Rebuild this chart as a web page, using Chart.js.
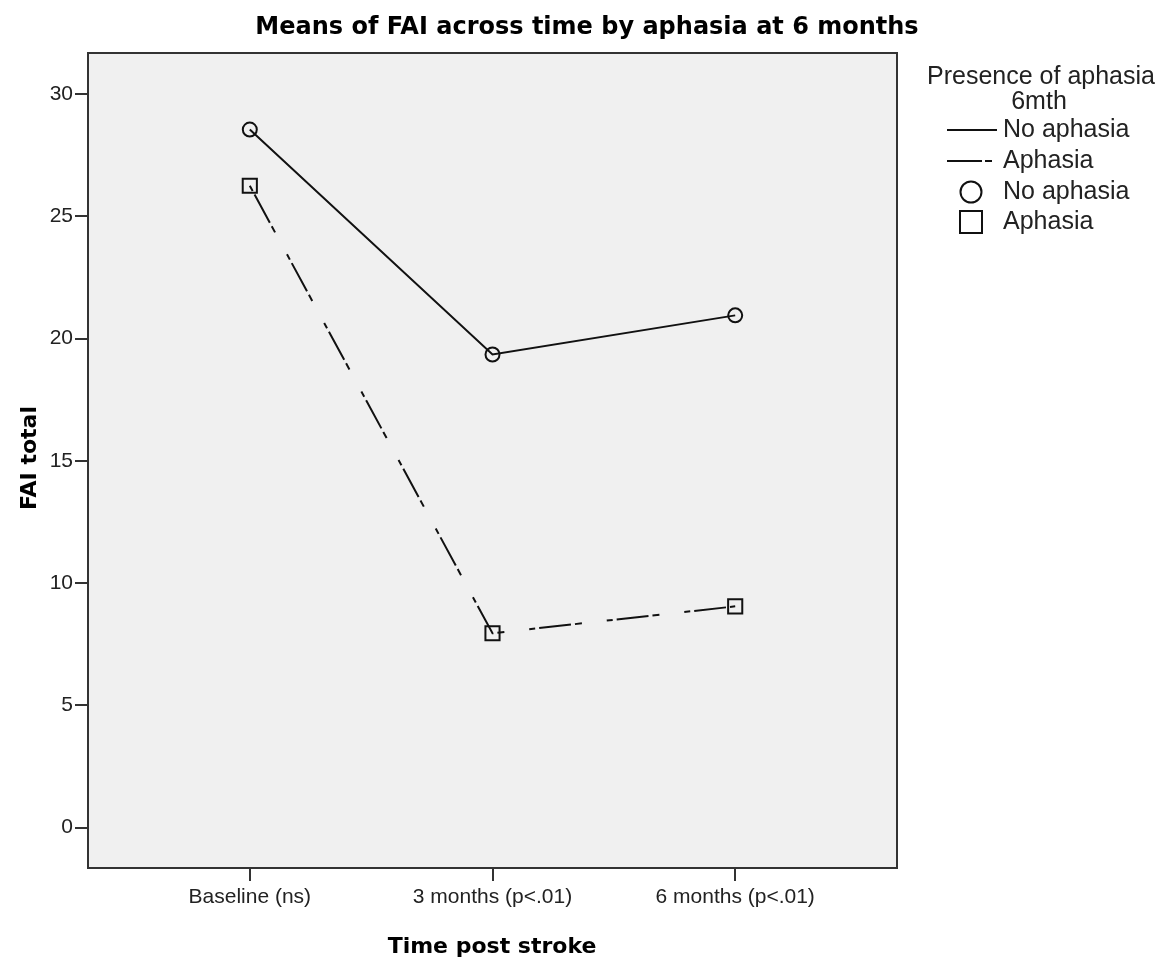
<!DOCTYPE html>
<html>
<head>
<meta charset="utf-8">
<script src="https://cdn.jsdelivr.net/npm/chart.js@4.4.0/dist/chart.umd.min.js"></script>
<style>
  body { margin: 0; background: #fff; }
  #wrap { width: 1175px; height: 963px; }
</style>
</head>
<body>
<div id="wrap"><canvas id="faiChart"></canvas></div>
<script>
// Data
const timePoints = ['Baseline (ns)', '3 months (p<.01)', '6 months (p<.01)'];
const noAphasia = [28.55, 19.35, 20.95];
const aphasia = [26.25, 7.95, 9.05];
const yTicks = [0, 5, 10, 15, 20, 25, 30];

const ink = '#111';
const dashDot = [6, 4, 32, 4, 7, 25];

// Grey plot box, frame, titles and the SPSS-style legend
const spssFrame = {
    id: 'spssFrame',
    beforeDraw(chart) {
        const { ctx, chartArea: a } = chart;
        ctx.save();
        ctx.fillStyle = '#f0f0f0';
        ctx.fillRect(a.left, a.top, a.right - a.left, a.bottom - a.top);
        ctx.restore();
    },
    afterDraw(chart) {
        const { ctx, chartArea: a } = chart;
        ctx.save();
        ctx.strokeStyle = '#333';
        ctx.lineWidth = 2;
        ctx.strokeRect(a.left, a.top, a.right - a.left, a.bottom - a.top);

        // chart title
        ctx.fillStyle = '#000';
        ctx.textAlign = 'center';
        ctx.textBaseline = 'alphabetic';
        ctx.font = 'bold 24px "DejaVu Sans"';
        ctx.fillText('Means of FAI across time by aphasia at 6 months', 587, 34);

        // axis titles
        ctx.font = 'bold 22px "DejaVu Sans"';
        ctx.fillText('Time post stroke', 492, 953);
        ctx.save();
        ctx.translate(36, 458);
        ctx.rotate(-Math.PI / 2);
        ctx.fillText('FAI total', 0, 0);
        ctx.restore();

        // legend
        ctx.font = '25px "Liberation Sans"';
        ctx.fillStyle = '#222';
        ctx.fillText('Presence of aphasia', 1041, 84);
        ctx.fillText('6mth', 1039, 109);
        ctx.textAlign = 'left';
        ctx.textBaseline = 'middle';
        const rows = [130, 161, 192, 222];
        ctx.fillText('No aphasia', 1003, rows[0]);
        ctx.fillText('Aphasia', 1003, rows[1]);
        ctx.fillText('No aphasia', 1003, rows[2]);
        ctx.fillText('Aphasia', 1003, rows[3]);

        ctx.strokeStyle = ink;
        ctx.lineWidth = 2;
        ctx.beginPath();
        ctx.moveTo(947, rows[0]);
        ctx.lineTo(997, rows[0]);
        ctx.stroke();
        ctx.setLineDash([35, 3, 7, 10]);
        ctx.beginPath();
        ctx.moveTo(947, rows[1]);
        ctx.lineTo(997, rows[1]);
        ctx.stroke();
        ctx.setLineDash([]);
        ctx.beginPath();
        ctx.arc(971, rows[2], 10.5, 0, Math.PI * 2);
        ctx.stroke();
        ctx.strokeRect(960, rows[3] - 11, 22, 22);
        ctx.restore();
    }
};

const tickFont = { family: 'Liberation Sans', size: 21 };

const ctx = document.getElementById('faiChart').getContext('2d');
const faiChart = new Chart(ctx, {
    type: 'line',
    data: {
        datasets: [{
            label: 'No aphasia',
            data: noAphasia.map((v, i) => ({ x: i, y: v })),
            borderColor: ink,
            borderWidth: 2,
            pointStyle: 'circle',
            pointRadius: 7,
            pointBorderWidth: 2,
            pointBorderColor: ink,
            pointBackgroundColor: 'rgba(0,0,0,0)',
            tension: 0
        }, {
            label: 'Aphasia',
            data: aphasia.map((v, i) => ({ x: i, y: v })),
            borderColor: ink,
            borderWidth: 2,
            borderDash: dashDot,
            pointStyle: 'rect',
            pointRadius: 10,
            pointBorderWidth: 2,
            pointBorderColor: ink,
            pointBackgroundColor: 'rgba(0,0,0,0)',
            tension: 0
        }]
    },
    options: {
        responsive: true,
        maintainAspectRatio: false,
        animation: false,
        events: [],
        layout: { padding: { top: 53, right: 278, left: 0, bottom: 0 } },
        scales: {
            x: {
                type: 'linear',
                min: -2 / 3,
                max: 8 / 3,
                afterBuildTicks: s => { s.ticks = timePoints.map((_, i) => ({ value: i })); },
                afterFit: s => { s.height = 95; },
                ticks: {
                    callback: v => timePoints[v],
                    font: tickFont,
                    color: '#222',
                    padding: 4,
                    maxRotation: 0,
                    autoSkip: false
                },
                grid: { drawOnChartArea: false, tickLength: 13, color: '#333', lineWidth: 2 },
                border: { display: false }
            },
            y: {
                min: -1.65,
                max: 31.68,
                afterBuildTicks: s => { s.ticks = yTicks.map(v => ({ value: v })); },
                afterFit: s => { s.width = 88; },
                ticks: { font: tickFont, color: '#222', padding: 2 },
                grid: { drawOnChartArea: false, tickLength: 13, color: '#333', lineWidth: 2 },
                border: { display: false }
            }
        },
        plugins: {
            legend: { display: false },
            title: { display: false },
            tooltip: { enabled: false }
        }
    },
    plugins: [spssFrame]
});
</script>
</body>
</html>
